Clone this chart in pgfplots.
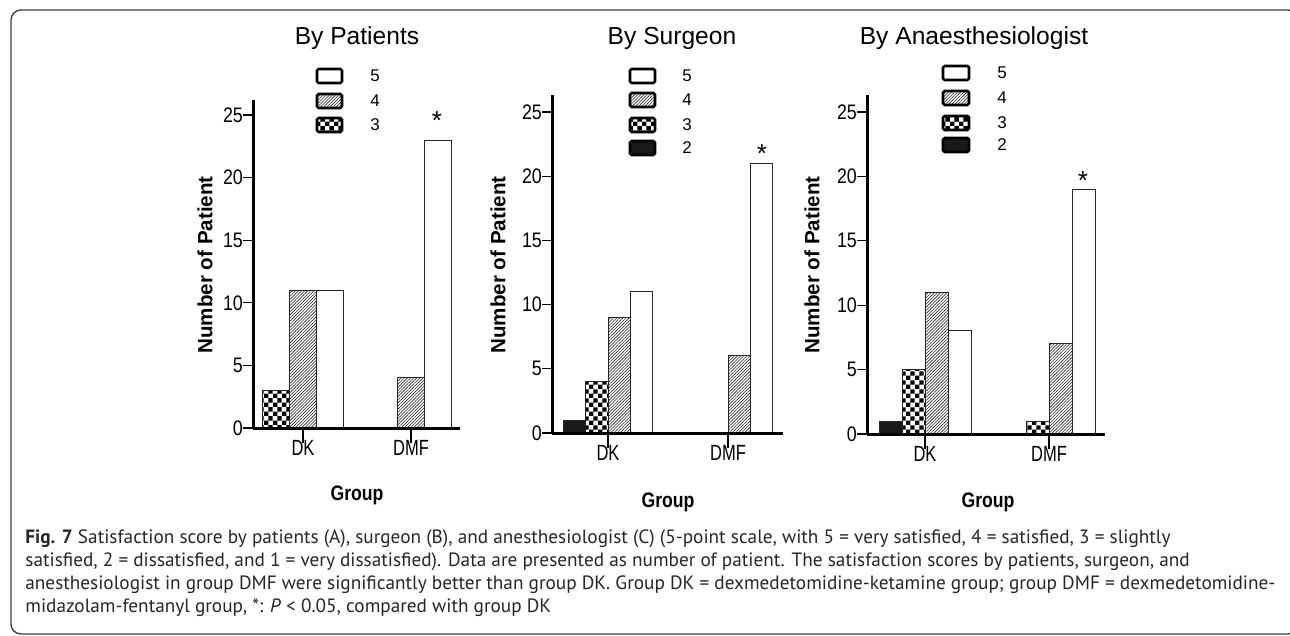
\documentclass[border=0pt]{standalone}
\usepackage{fontspec}
\setmainfont{Liberation Sans}
\newfontfamily\capfont{PT Sans}
\usepackage{graphicx}
\usepackage{pgfplots}
\pgfplotsset{compat=1.18}
\usetikzlibrary{patterns,patterns.meta}

% checkerboard fill for score 3
\pgfdeclarepattern{
  name=checker,
  type=uncolored,
  bottom left={\pgfpoint{0pt}{0pt}},
  top right={\pgfpoint{4.4pt}{4.4pt}},
  tile size={\pgfpoint{4.4pt}{4.4pt}},
  code={
    \pgfpathrectangle{\pgfpoint{0pt}{0pt}}{\pgfpoint{2.2pt}{2.2pt}}
    \pgfpathrectangle{\pgfpoint{2.2pt}{2.2pt}}{\pgfpoint{2.2pt}{2.2pt}}
    \pgfusepath{fill}
  }
}

\newcommand{\narrow}[2][0.8]{\scalebox{#1}[1]{#2}}

% fills for the four scores
\tikzset{
  s2/.style={fill=black!90},
  s3/.style={pattern=checker, pattern color=black},
  s4/.style={pattern={Lines[angle=45,distance=1.1pt,line width=0.3pt]}, pattern color=black!85},
  s5/.style={fill=white},
}

\pgfplotsset{
  satbar/.style={
    ybar, axis on top, scale only axis, clip=false,
    anchor=south west,
    axis lines=left,
    x axis line style={-, line width=1.5pt},
    y axis line style={-, line width=1.5pt},
    ymin=0, ytick={0,5,...,25},
    xtick={0,1},
    xticklabels={{\narrow[0.75]{DK}},{\narrow[0.75]{DMF}}},
    tick align=outside,
    ytick style={line width=0.6pt, black, /pgfplots/major tick length=5pt},
    xtick style={line width=0.6pt, black, /pgfplots/major tick length=7.5pt},
    /pgf/number format/assume math mode=true,
    yticklabel={\narrow[0.85]{\pgfmathprintnumber{\tick}}},
    yticklabel style={font=\fontsize{10.5}{12}\selectfont, inner xsep=0.6pt},
    xticklabel style={font=\fontsize{11}{13}\selectfont, inner ysep=1.5pt},
    every axis plot/.append style={draw=black!85, line width=0.5pt},
  },
}

% caption type: scaled so that the longest line spans 625pt
\newcommand{\capsize}{\capfont\fontsize{9.6}{11}\selectfont}
\newsavebox\capbox

\begin{document}%
\sbox\capbox{\capsize anesthesiologist in group DMF were significantly better than group DK. Group DK = dexmedetomidine-ketamine group; group DMF = dexmedetomidine-}%
\pgfmathsetmacro\capscale{625pt/\the\wd\capbox}%
\begin{tikzpicture}
\useasboundingbox (0,0) rectangle (645pt,-318pt);

% ---------------- By Patients ----------------
\begin{axis}[satbar, at={(126.5pt,-214pt)},
  x=54pt, y=6.26pt, xmin=-0.463, xmax=1.454, ymax=26.2,
  bar width=13.35pt]
  \addplot[s3, bar shift=-13.35pt] coordinates {(0,3) (1,0)};
  \addplot[s4, bar shift=0pt]      coordinates {(0,11) (1,4)};
  \addplot[s5, bar shift=13.35pt]  coordinates {(0,11) (1,23)};
\end{axis}

% ---------------- By Surgeon ----------------
\begin{axis}[satbar, at={(276pt,-216.5pt)},
  x=60pt, y=6.42pt, xmin=-0.467, xmax=1.458, ymax=26.3,
  bar width=11.15pt]
  \addplot[s2, bar shift=-16.7pt] coordinates {(0,1) (1,0)};
  \addplot[s3, bar shift=-5.57pt] coordinates {(0,4) (1,0)};
  \addplot[s4, bar shift=5.57pt]  coordinates {(0,9) (1,6)};
  \addplot[s5, bar shift=16.7pt]  coordinates {(0,11) (1,21)};
\end{axis}

% ---------------- By Anaesthesiologist ----------------
\begin{axis}[satbar, at={(433.5pt,-217pt)},
  x=62pt, y=6.44pt, xmin=-0.468, xmax=1.452, ymax=26.3,
  bar width=11.5pt]
  \addplot[s2, bar shift=-17.25pt] coordinates {(0,1) (1,0)};
  \addplot[s3, bar shift=-5.75pt]  coordinates {(0,5) (1,1)};
  \addplot[s4, bar shift=5.75pt]   coordinates {(0,11) (1,7)};
  \addplot[s5, bar shift=17.25pt]  coordinates {(0,8) (1,19)};
\end{axis}

\begin{scope}[x=0.5pt, y=-0.5pt]
  % panel titles
  \node[anchor=base, font=\fontsize{12.3}{14}\selectfont] at (357,45) {By Patients};
  \node[anchor=base, font=\fontsize{12.3}{14}\selectfont] at (672,45) {By Surgeon};
  \node[anchor=base, font=\fontsize{12.3}{14}\selectfont] at (974,45) {By Anaesthesiologist};

  % y labels
  \foreach \xx in {205,498,812}
    \node[rotate=90, font=\bfseries\fontsize{10.3}{12}\selectfont] at (\xx,265) {Number of Patient};

  % x labels
  \node[anchor=base, font=\bfseries\fontsize{10.5}{12}\selectfont] at (357,500) {\narrow[0.84]{Group}};
  \node[anchor=base, font=\bfseries\fontsize{10.5}{12}\selectfont] at (668,507) {\narrow[0.84]{Group}};
  \node[anchor=base, font=\bfseries\fontsize{10.5}{12}\selectfont] at (988,507) {\narrow[0.84]{Group}};

  % significance marks
  \node[anchor=base, font=\fontsize{13}{14}\selectfont, inner sep=0] at (437,130) {*};
  \node[anchor=base, font=\fontsize{13}{14}\selectfont, inner sep=0] at (762,163) {*};
  \node[anchor=base, font=\fontsize{13}{14}\selectfont, inner sep=0] at (1083,190) {*};

  % legends
  \tikzset{lgbox/.style={line width=1.3pt, rounded corners=0.8pt},
           lglab/.style={font=\fontsize{8.5}{10}\selectfont}}
  % panel 1
  \draw[lgbox, fill=white] (317,69) rectangle (342,83);
  \draw[lgbox, s4] (317,94) rectangle (342,108);
  \draw[lgbox, s3] (317,118) rectangle (342,132);
  \node[lglab] at (375,76) {5};
  \node[lglab] at (375,101) {4};
  \node[lglab] at (375,125) {3};
  % panel 2
  \draw[lgbox, fill=white] (630,69) rectangle (655,83);
  \draw[lgbox, s4] (630,93) rectangle (655,107);
  \draw[lgbox, s3] (630,118) rectangle (655,132);
  \draw[lgbox, s2] (630,141) rectangle (655,155);
  \node[lglab] at (687,76) {5};
  \node[lglab] at (687,100) {4};
  \node[lglab] at (687,125) {3};
  \node[lglab] at (687,148) {2};
  % panel 3
  \draw[lgbox, fill=white] (943,66) rectangle (969,80);
  \draw[lgbox, s4] (943,91) rectangle (969,105);
  \draw[lgbox, s3] (943,116) rectangle (969,130);
  \draw[lgbox, s2] (943,138) rectangle (969,152);
  \node[lglab] at (1002,73) {5};
  \node[lglab] at (1002,98) {4};
  \node[lglab] at (1002,123) {3};
  \node[lglab] at (1002,145) {2};

  % caption
  \tikzset{capline/.style={anchor=base west, inner sep=0, text=black!85}}
  \node[capline] at (25,543) {\scalebox{\capscale}{\capsize\textbf{Fig. 7} Satisfaction score by patients (A), surgeon (B), and anesthesiologist (C) (5-point scale, with 5 = very satisfied, 4 = satisfied, 3 = slightly}};
  \node[capline] at (25,566) {\scalebox{\capscale}{\capsize satisfied, 2 = dissatisfied, and 1 = very dissatisfied). Data are presented as number of patient. The satisfaction scores by patients, surgeon, and}};
  \node[capline] at (25,589) {\scalebox{\capscale}{\capsize anesthesiologist in group DMF were significantly better than group DK. Group DK = dexmedetomidine-ketamine group; group DMF = dexmedetomidine-}};
  \node[capline] at (25,612) {\scalebox{\capscale}{\capsize midazolam-fentanyl group, *: \textit{P} < 0.05, compared with group DK}};

  % figure frame
  \draw[black!75, line width=0.7pt, rounded corners=5pt] (11,10) rectangle (1298,634);
\end{scope}
\end{tikzpicture}
\end{document}
